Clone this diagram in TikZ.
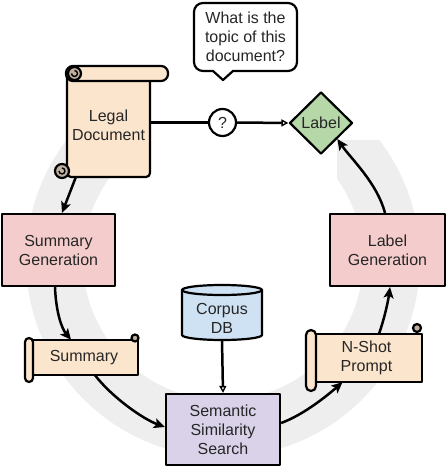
\documentclass[tikz,border=0pt]{standalone}
\usepackage{fontspec}
\setmainfont{Liberation Sans}
\usetikzlibrary{arrows.meta,shapes.geometric}
\definecolor{peach}{HTML}{FCE5CD}
\definecolor{pinkbox}{HTML}{F4CCCC}
\definecolor{greenbox}{HTML}{B6D7A8}
\definecolor{purplebox}{HTML}{D9D2E9}
\definecolor{bluebox}{HTML}{CFE2F3}
\definecolor{curlfill}{HTML}{C2B0A0}
\definecolor{ringgray}{HTML}{EEEEEE}
\begin{document}
\begin{tikzpicture}[x=1pt,y=-1pt, line join=round,
  every node/.style={font=\fontsize{16}{19}\selectfont, text=black!85},
  outl/.style={draw=black, line width=2.2pt},
  box/.style={outl, rectangle, align=center, inner sep=0pt},
  txt/.style={align=center, inner sep=0pt},
  conn/.style={line width=2.5pt},
  arr/.style={conn, -{Stealth[length=11pt,width=10pt,inset=2.5pt]}},
  openarr/.style={conn, -{Triangle[open,length=7pt,width=7pt,line width=1.4pt]}},
]
\useasboundingbox (0,0) rectangle (446,468);

% background ring
\begin{scope}
\clip (0,140) -- (110,140) -- (110,200) -- (337,200) -- (337,140) -- (446,140) -- (446,468) -- (0,468) -- cycle;
\fill[ringgray, even odd rule] (223,260) circle[radius=197pt] (223,260) circle[radius=140pt];
\end{scope}

% speech bubble
\draw[outl, fill=white] (213,71) -- (223,80) -- (233,71) -- (288,71)
  arc[start angle=270, end angle=360, radius=9pt] -- (297,12)
  arc[start angle=0, end angle=90, radius=9pt] -- (203,3)
  arc[start angle=90, end angle=180, radius=9pt] -- (194,62)
  arc[start angle=180, end angle=270, radius=9pt] -- cycle;
\node[txt, font=\fontsize{16}{19}\selectfont] (bubble) at (245.5,37) {What is the\\topic of this\\document?};

% legal document scroll
\draw[outl, fill=peach, rounded corners=4pt] (67,74) rectangle (150,177);
\draw[outl, fill=peach, rounded corners=7pt] (66,66) rectangle (168,81);
\draw[outl, fill=curlfill] (74.5,73.5) circle[radius=6.5pt];
\draw[line width=1.4pt] (71.5,73.5) arc[start angle=180, end angle=450, radius=3pt];
\draw[outl, fill=curlfill] (62,171) circle[radius=7pt];
\draw[line width=1.4pt] (59,171) arc[start angle=180, end angle=450, radius=3pt];
\node[txt, minimum width=83pt, minimum height=103pt] (legal) at (108.5,125.5) {Legal\\Document};

% summary scroll
\draw[outl, fill=peach] (30,340) rectangle (138,375);
\draw[outl, fill=peach, rounded corners=4pt] (25,338) rectangle (33,382);
\draw[outl, fill=curlfill] (135,338) circle[radius=3.5pt];
\node[txt, minimum width=108pt, minimum height=35pt] (sum) at (84,357.5) {Summary};

% n-shot scroll
\draw[outl, fill=peach] (311,334) rectangle (422,382);
\draw[outl, fill=peach, rounded corners=5pt] (306,330) rectangle (316,391);
\draw[outl, fill=curlfill] (417,328) circle[radius=4pt];
\node[txt, minimum width=111pt, minimum height=48pt] (nshot) at (366.5,358) {N-Shot\\Prompt};

% corpus DB cylinder
\draw[outl, fill=bluebox] (182,290) -- (182,335)
  arc[start angle=180, end angle=360, x radius=40pt, y radius=5pt] -- (262,290)
  arc[start angle=0, end angle=180, x radius=40pt, y radius=5pt] -- cycle;
\draw[outl] (182,290) arc[start angle=180, end angle=360, x radius=40pt, y radius=5pt];
\node[txt, minimum width=80pt, minimum height=44pt] (corpus) at (222,318) {Corpus\\DB};

% boxes
\node[box, fill=pinkbox, minimum width=113pt, minimum height=72pt] (sumgen) at (58.5,250) {Summary\\Generation};
\node[box, fill=pinkbox, minimum width=115pt, minimum height=72pt] (labgen) at (387.5,250) {Label\\Generation};
\node[box, fill=purplebox, minimum width=114pt, minimum height=71pt] (sem) at (223,429.5) {Semantic\\Similarity\\Search};
\node[outl, diamond, fill=greenbox, minimum width=63pt, minimum height=62pt, inner sep=0pt] (label) at (321,123) {Label};
\node[outl, circle, fill=white, minimum size=27pt, inner sep=0pt] (q) at (222.5,122.5) {?};

% connectors
\draw[conn] (q.west -| legal.east) -- (q.west);
\draw[openarr] (q.east) -- (label.west);
\draw[arr] ([xshift=9pt]legal.south west) -- ([xshift=3.5pt]sumgen.north);
\draw[arr] ([xshift=-3.5pt]sumgen.south) .. controls +(1,26) and +(-9,-11) .. ([xshift=-13pt]sum.north);
\draw[arr] ([xshift=11pt]sum.south) .. controls +(17,22) and +(-22,-8) .. ([yshift=2.5pt]sem.west);
\draw[openarr] (corpus.south) -- (sem.north);
\draw[arr] ([yshift=6.5pt]sem.east) .. controls +(22,-8) and +(-16,14) .. ([xshift=-24pt]nshot.south);
\draw[arr] ([xshift=12.5pt]nshot.north) .. controls +(5,-14) and +(-2,15) .. ([xshift=2.5pt]labgen.south);
\draw[arr] ([xshift=-2.5pt]labgen.north) .. controls +(-8,-30) and +(14,20) .. (label.south east);
\end{tikzpicture}
\end{document}
